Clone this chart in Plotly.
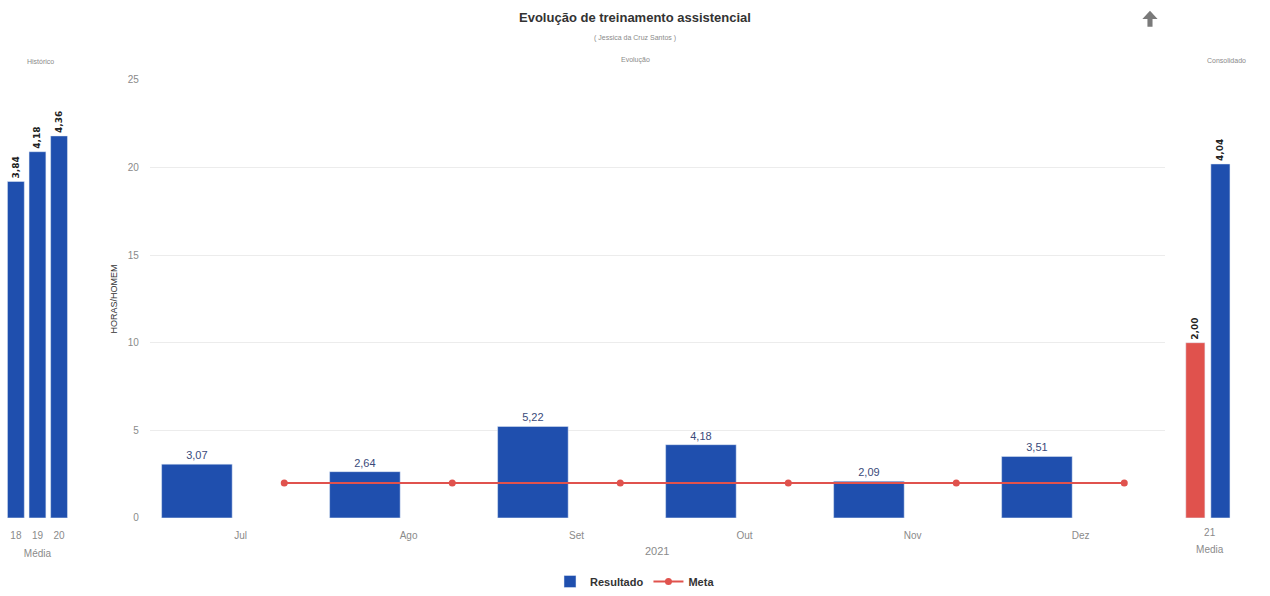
import plotly.graph_objs as go

# Histórico (média por ano)
anos_hist = ['18', '19', '20']
media_hist = [3.84, 4.18, 4.36]

# Evolução mensal 2021
meses = ['Jul', 'Ago', 'Set', 'Out', 'Nov', 'Dez']
resultado = [3.07, 2.64, 5.22, 4.18, 2.09, 3.51]
meta = [2.0, 2.0, 2.0, 2.0, 2.0, 2.0]

# Consolidado 2021
ano_cons = ['21']
meta_cons = [2.00]
resultado_cons = [4.04]

AZUL = '#1f4fae'
VERMELHO = '#e0524d'
CINZA = '#8a8a8a'
FONTE = 'Liberation Sans, Arial, sans-serif'


def rotulo(valores):
    # labels in pt-BR style (comma decimal)
    return [f'{v:.2f}'.replace('.', ',') for v in valores]


x_pos = list(range(len(meses)))
fonte_rot = dict(size=9, color='#222222', family='DejaVu Sans', weight='bold')

fig = go.Figure()

# left panel
fig.add_trace(go.Bar(
    x=anos_hist, y=media_hist, xaxis='x', yaxis='y',
    marker_color=AZUL, width=0.78, showlegend=False,
    text=rotulo(media_hist), textposition='outside', textangle=-90,
    constraintext='none', textfont=fonte_rot, cliponaxis=False, hoverinfo='skip'
))

# middle panel
fig.add_trace(go.Bar(
    x=x_pos, y=resultado, xaxis='x2', yaxis='y2', name='Resultado',
    marker_color=AZUL, width=0.42, offset=-0.47,
    text=rotulo(resultado), textposition='outside', constraintext='none',
    textfont=dict(size=11, color='#3a4a7a', family=FONTE),
    cliponaxis=False
))
fig.add_trace(go.Scatter(
    x=[i + 0.26 for i in x_pos], y=meta, xaxis='x2', yaxis='y2', name='Meta',
    mode='lines+markers', line=dict(color=VERMELHO, width=2),
    marker=dict(color=VERMELHO, size=7)
))

# right panel
fig.add_trace(go.Bar(
    x=ano_cons, y=meta_cons, xaxis='x3', yaxis='y3',
    marker_color=VERMELHO, width=0.32, offset=-0.4, showlegend=False,
    text=rotulo(meta_cons), textposition='outside', textangle=-90,
    constraintext='none', textfont=fonte_rot, cliponaxis=False
))
fig.add_trace(go.Bar(
    x=ano_cons, y=resultado_cons, xaxis='x3', yaxis='y3',
    marker_color=AZUL, width=0.32, offset=0.02, showlegend=False,
    text=rotulo(resultado_cons), textposition='outside', textangle=-90,
    constraintext='none', textfont=fonte_rot, cliponaxis=False
))

ydom = [0.131, 0.866]
tickfont = dict(size=10, color=CINZA, family=FONTE)


def rotulo_painel(texto, x, y):
    return dict(text=texto, x=x, y=y, xref='paper', yref='paper',
                xanchor='center', yanchor='middle', showarrow=False,
                font=dict(size=7, color=CINZA))


fig.update_layout(
    width=1270, height=596,
    margin=dict(l=0, r=0, t=0, b=0),
    paper_bgcolor='white', plot_bgcolor='white',
    font=dict(family=FONTE, color='#333333'),
    separators=',.',
    barmode='overlay',
    title=dict(
        text='<b>Evolução de treinamento assistencial</b>',
        x=0.5, xanchor='center', y=0.97, yanchor='middle',
        font=dict(size=13, color='#333333', family=FONTE)
    ),
    xaxis=dict(domain=[0.004, 0.055], type='category', showgrid=False,
               tickfont=tickfont, ticks='', showline=False, zeroline=False,
               automargin=False, ticklabelstandoff=10,
               title=dict(text='Média', font=dict(size=10, color=CINZA), standoff=10)),
    yaxis=dict(domain=ydom, range=[0, 5], visible=False, anchor='x'),
    xaxis2=dict(domain=[0.118, 0.917], range=[-0.54, 5.5],
                tickvals=x_pos, ticktext=meses, showgrid=False,
                tickfont=tickfont, ticks='', zeroline=False, anchor='y2',
                automargin=False, ticklabelstandoff=10,
                title=dict(text='2021', font=dict(size=11, color=CINZA), standoff=7)),
    yaxis2=dict(domain=ydom, range=[0, 25], dtick=5, anchor='x2',
                showgrid=True, gridcolor='#ececec', gridwidth=1, zeroline=False,
                tickfont=tickfont, ticks='', ticklabelstandoff=10, automargin=False,
                title=dict(text='HORAS/HOMEM', font=dict(size=9, color='#333333'),
                           standoff=8)),
    xaxis3=dict(domain=[0.929, 0.976], type='category', showgrid=False,
                tickfont=tickfont, ticks='', zeroline=False, anchor='y3',
                automargin=False, ticklabelstandoff=7,
                title=dict(text='Media', font=dict(size=10, color=CINZA), standoff=9)),
    yaxis3=dict(domain=ydom, range=[0, 5], visible=False, anchor='x3'),
    legend=dict(orientation='h', x=0.5, xanchor='center', y=0, yanchor='bottom',
                font=dict(size=11, color='#333333', weight='bold'),
                traceorder='normal', itemwidth=30),
    annotations=[
        rotulo_painel('( Jessica da Cruz Santos )', 0.5, 0.937),
        rotulo_painel('Histórico', 0.032, 0.896),
        rotulo_painel('Evolução', 0.5, 0.899),
        rotulo_painel('Consolidado', 0.966, 0.899),
    ],
    shapes=[
        # up-arrow icon at top right
        dict(type='path', xref='paper', yref='paper',
             path='M 0.9055 0.982 L 0.8995 0.968 L 0.9035 0.968 L 0.9035 0.955 '
                  'L 0.9075 0.955 L 0.9075 0.968 L 0.9115 0.968 Z',
             fillcolor='#7a7a7a', line=dict(width=0)),
    ],
)

fig.write_html("out.html", config={'displayModeBar': False},
               post_script="document.body.style.margin='0';document.body.style.overflow='hidden';")
